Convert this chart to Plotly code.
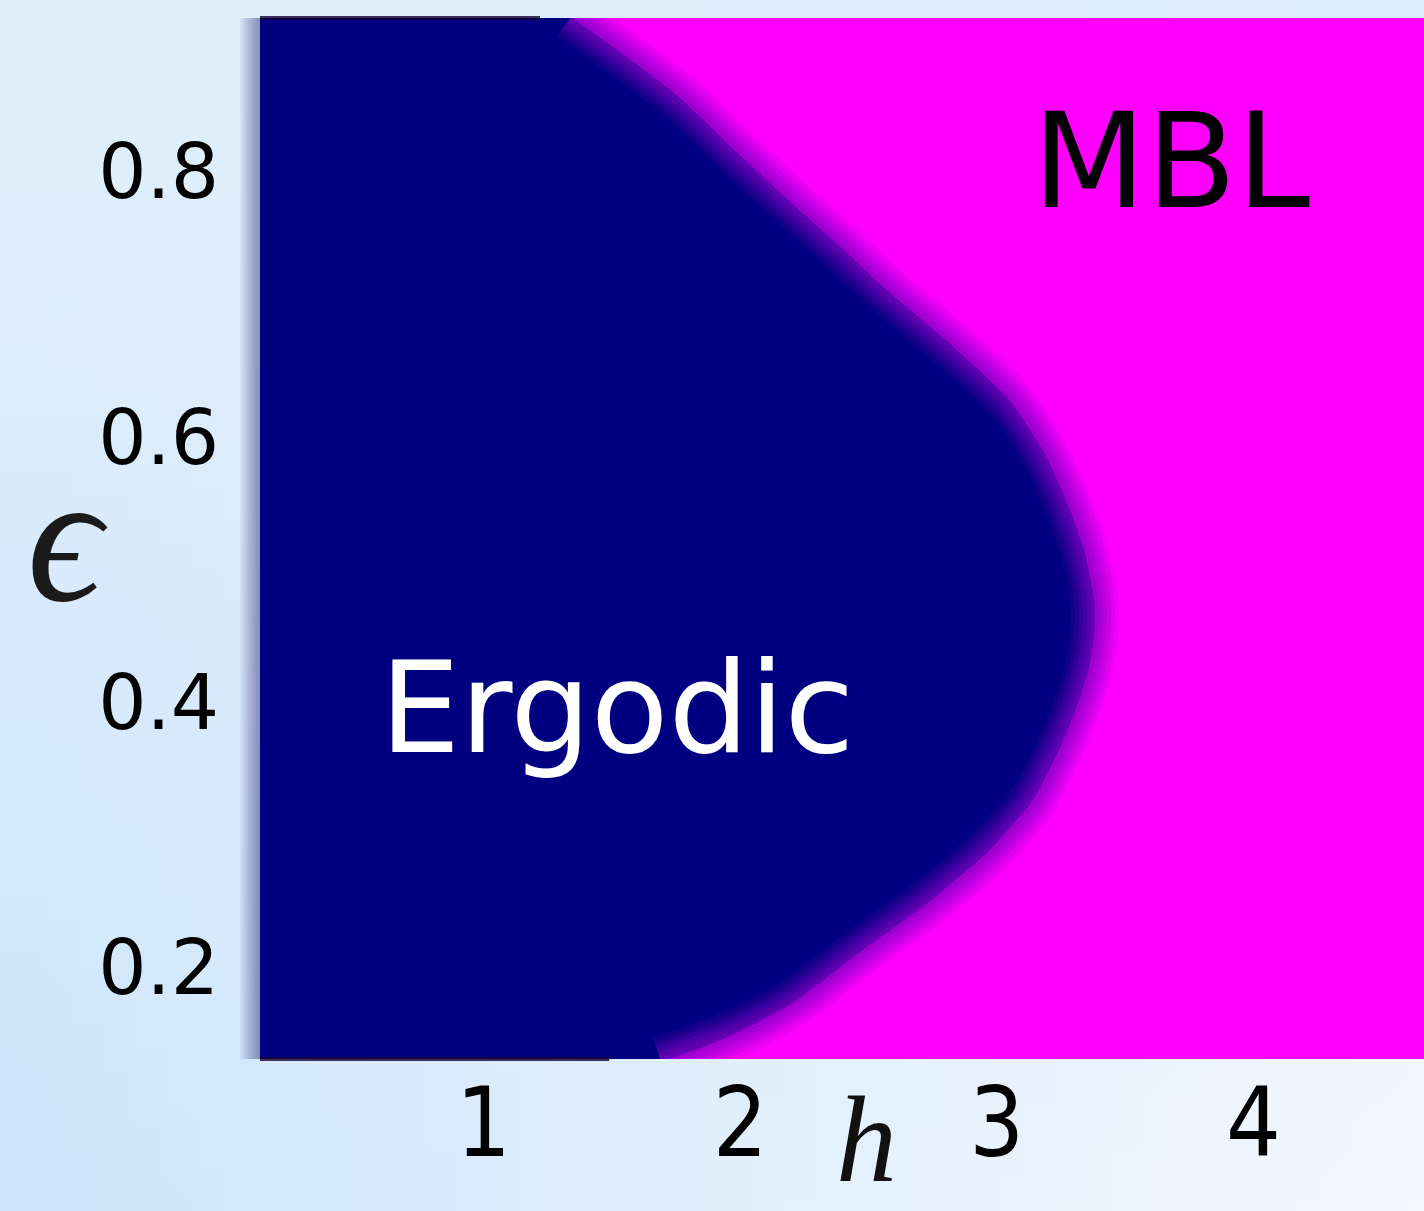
import base64
import struct
import zlib

import plotly.graph_objects as go

# Phase boundary between the ergodic and many-body-localized regions:
# energy density epsilon versus the critical disorder strength h_c.
eps_boundary = [0.917, 0.885, 0.855, 0.818, 0.780, 0.742, 0.711, 0.670, 0.628,
                0.590, 0.553, 0.515, 0.477, 0.452, 0.426, 0.401, 0.376, 0.351,
                0.326, 0.288, 0.250, 0.212, 0.174, 0.152, 0.130]
h_boundary = [1.34, 1.57, 1.77, 1.97, 2.18, 2.40, 2.57, 2.82, 3.05,
              3.18, 3.27, 3.34, 3.38, 3.38, 3.36, 3.32, 3.27, 3.21,
              3.14, 2.97, 2.74, 2.47, 2.21, 2.00, 1.69]

x_ticks = [1, 2, 3, 4]
y_ticks = [0.2, 0.4, 0.6, 0.8]
x_range = [0.129, 4.665]
y_range = [0.131, 0.916]

region_labels = ["Ergodic", "MBL"]
region_pos = [(1.52, 0.396), (3.68, 0.808)]

NAVY = "#000080"
MAGENTA = "#ff00ff"

W, H = 1424, 1211
ML, MR, MT, MB = 260, 0, 18, 152
PW, PH = W - ML - MR, H - MT - MB


def gradient_png(nx=48, ny=48):
    """Soft light-blue backdrop as a small PNG (bilinear corner blend)."""
    tl, tr = (226, 239, 251), (219, 236, 251)
    bl, br = (204, 229, 251), (245, 248, 254)
    rows = []
    for j in range(ny):
        v = j / (ny - 1)
        row = bytearray([0])
        for i in range(nx):
            u = i / (nx - 1)
            px = [round((1 - u) * (1 - v) * a + u * (1 - v) * b + (1 - u) * v * c + u * v * d)
                  for a, b, c, d in zip(tl, tr, bl, br)]
            row.extend(px)
        rows.append(bytes(row))
    raw = b"".join(rows)

    def chunk(tag, data):
        c = struct.pack(">I", len(data)) + tag + data
        return c + struct.pack(">I", zlib.crc32(tag + data) & 0xFFFFFFFF)

    png = b"\x89PNG\r\n\x1a\n"
    png += chunk(b"IHDR", struct.pack(">IIBBBBB", nx, ny, 8, 2, 0, 0, 0))
    png += chunk(b"IDAT", zlib.compress(raw, 9))
    png += chunk(b"IEND", b"")
    return "data:image/png;base64," + base64.b64encode(png).decode()


fig = go.Figure()

# Ergodic region: everything to the left of the boundary
x_left = x_range[0] - 0.6
fig.add_trace(go.Scatter(
    x=h_boundary + [x_left, x_left],
    y=eps_boundary + [eps_boundary[-1], eps_boundary[0]],
    mode="lines", fill="toself", fillcolor=NAVY,
    line=dict(width=0, color=NAVY, shape="spline", smoothing=0.6),
    hoverinfo="skip", showlegend=False,
))

# Soft crossover along the phase boundary
for width, alpha in [(48, 0.13), (40, 0.15), (32, 0.19), (24, 0.23), (16, 0.28), (8, 0.34)]:
    fig.add_trace(go.Scatter(
        x=h_boundary, y=eps_boundary, mode="lines",
        line=dict(width=width, color=f"rgba(130,0,195,{alpha})",
                  shape="spline", smoothing=1.0),
        hoverinfo="skip", showlegend=False,
    ))

shapes = [
    # MBL region fills the whole plotting area beneath the ergodic patch
    dict(type="rect", xref="paper", yref="paper", x0=0, x1=1, y0=0, y1=1,
         fillcolor=MAGENTA, line=dict(width=0), layer="below"),
]
# Shadow along the left edge of the diagram
for k in range(1, 11):
    w = 2 * k
    shapes.append(dict(
        type="rect", xref="paper", yref="paper",
        x0=-w / PW, x1=0, y0=0, y1=1,
        fillcolor="rgba(40,40,110,0.055)", line=dict(width=0), layer="below",
    ))
# Dark rim on the ergodic part of the top and bottom edges
shapes.append(dict(type="line", xref="x", yref="paper",
                   x0=x_range[0], x1=h_boundary[0] - 0.12, y0=1, y1=1,
                   line=dict(color="rgba(20,0,50,0.8)", width=4)))
shapes.append(dict(type="line", xref="x", yref="paper",
                   x0=x_range[0], x1=h_boundary[-1] - 0.2, y0=0, y1=0,
                   line=dict(color="rgba(20,0,50,0.8)", width=4)))

annotations = [
    dict(x=region_pos[0][0], y=region_pos[0][1], xref="x", yref="y",
         text=region_labels[0], showarrow=False,
         font=dict(family="DejaVu Sans", size=127, color="white")),
    dict(x=region_pos[1][0], y=region_pos[1][1], xref="x", yref="y",
         text=region_labels[1], showarrow=False,
         font=dict(family="DejaVu Sans", size=132, color="black")),
    # axis symbols
    dict(x=(67 - ML) / PW, y=1 - (537 - MT) / PH, xref="paper", yref="paper",
         text="<i>ϵ</i>", showarrow=False, xanchor="center", yanchor="middle",
         font=dict(family="Liberation Serif, DejaVu Serif", size=185, color="#1a1a1a")),
    dict(x=(866 - ML) / PW, y=-(MB - 2) / PH, xref="paper", yref="paper",
         text="<i>h</i>", showarrow=False, xanchor="center", yanchor="bottom",
         font=dict(family="Liberation Serif, DejaVu Serif", size=122, color="#111")),
]

fig.update_layout(
    width=W, height=H, autosize=False,
    margin=dict(l=ML, r=MR, t=MT, b=MB, pad=0),
    paper_bgcolor="#deedfa",
    plot_bgcolor=MAGENTA,
    showlegend=False,
    shapes=shapes,
    annotations=annotations,
    images=[dict(
        source=gradient_png(), xref="paper", yref="paper",
        x=-ML / PW, y=1 + MT / PH, sizex=W / PW, sizey=H / PH,
        xanchor="left", yanchor="top", sizing="stretch", layer="below",
    )],
    xaxis=dict(
        range=x_range, tickvals=x_ticks, ticktext=[str(v) for v in x_ticks],
        showgrid=False, zeroline=False, showline=False, ticks="",
        tickfont=dict(family="DejaVu Sans Condensed, DejaVu Sans", size=96, color="black"),
        ticklabelstandoff=0,
    ),
    yaxis=dict(
        range=y_range, tickvals=y_ticks, tickformat=".1f",
        showgrid=False, zeroline=False, showline=False, ticks="",
        tickfont=dict(family="DejaVu Sans", size=76, color="black"),
        ticklabelstandoff=40,
    ),
)

fig.write_html("out.html")
